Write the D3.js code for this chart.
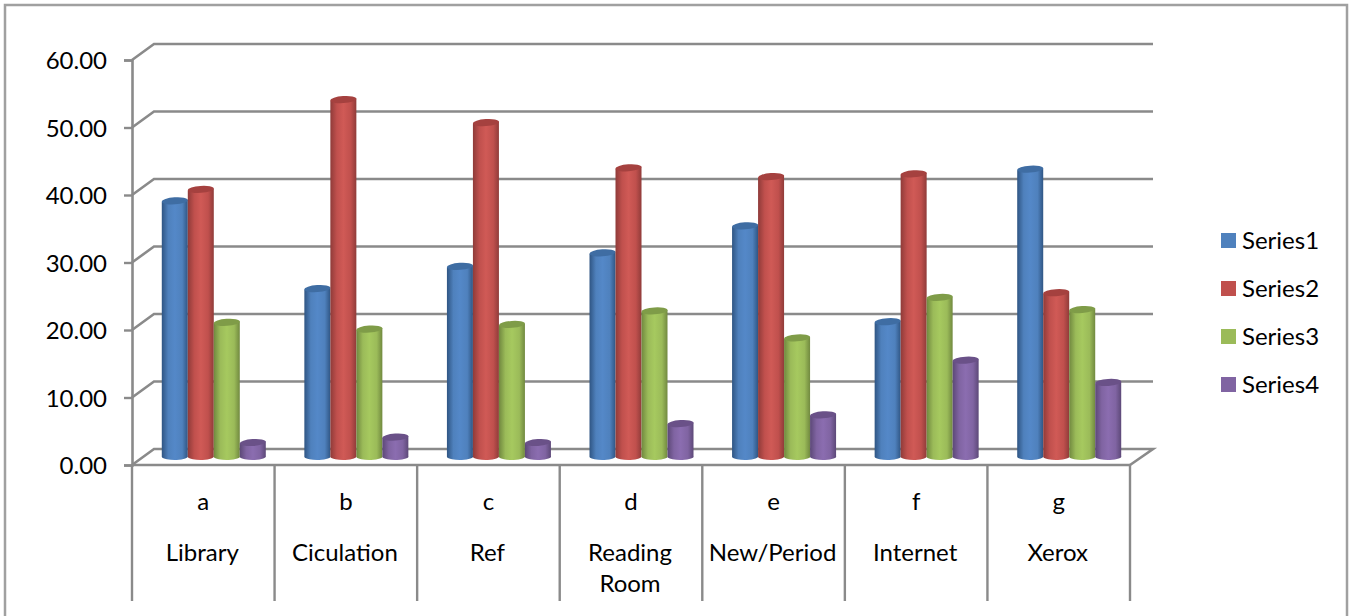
<!DOCTYPE html>
<html>
<head>
<meta charset="utf-8">
<script src="https://cdnjs.cloudflare.com/ajax/libs/d3/7.8.5/d3.min.js"></script>
<style>
  html, body { margin: 0; padding: 0; background: #fff; overflow: hidden; }
  svg { display: block; }
  text { font-family: Lato, "Open Sans", sans-serif; font-size: 24px; fill: #000; }
</style>
</head>
<body>
<svg id="chart" width="1351" height="616"></svg>
<script>
const codes = ["a", "b", "c", "d", "e", "f", "g"];
const places = ["Library", "Ciculation", "Ref", "Reading Room", "New/Period", "Internet", "Xerox"];
const seriesNames = ["Series1", "Series2", "Series3", "Series4"];

const series1 = [37.8, 24.8, 28.1, 30.1, 34.1, 19.9, 42.5];
const series2 = [39.5, 52.8, 49.4, 42.7, 41.4, 41.8, 24.2];
const series3 = [19.8, 18.8, 19.5, 21.5, 17.5, 23.5, 21.7];
const series4 = [2.0, 2.8, 2.0, 4.8, 6.1, 14.2, 10.9];
const seriesValues = [series1, series2, series3, series4];

const yTicks = [0, 10, 20, 30, 40, 50, 60];

const baseColors = ["#4f81bd", "#c0504d", "#9bbb59", "#8064a2"];
const midColors = ["#5488c8", "#d05a56", "#a6c95f", "#8b6db0"];
const edgeColors = ["#2f5583", "#8f3b39", "#70883f", "#5c4877"];
const capColors = ["#3f6da3", "#a5413f", "#7f9c48", "#6a5188"];

const gridColor = "#8a8a8a";

const svg = d3.select("#chart");

// depth of the 3d floor, back wall sits up and right of the front axis
const depth = { x: 22, y: -16 };

const x = d3.scaleBand().domain(codes).range([132, 1130]);
const y = d3.scaleLinear().domain([0, 60]).range([465, 60]);
const inner = d3.scaleBand().domain(seriesNames).range([0, 104]);

/* FRAME */
svg.append("rect")
  .attr("x", 5)
  .attr("y", 5)
  .attr("width", 1342)
  .attr("height", 660)
  .attr("fill", "#fff")
  .attr("stroke", "#a0a0a0")
  .attr("stroke-width", 2.5);

/* GRID */
const grid = svg.append("g").attr("id", "grid")
  .attr("fill", "none")
  .attr("stroke", gridColor)
  .attr("stroke-width", 2.6);

grid.selectAll("path")
  .data(yTicks)
  .enter()
  .append("path")
  .attr("d", d => {
    const x0 = x.range()[0];
    const x1 = x.range()[1];
    const line = "M" + x0 + "," + y(d) + "L" + (x0 + depth.x) + "," + (y(d) + depth.y) + "L" + (x1 + depth.x + 1) + "," + (y(d) + depth.y);
    return d === 0 ? line + "L" + x1 + "," + y(d) : line;
  });

/* Y AXIS */
const yAxis = d3.axisLeft(y)
  .tickValues(yTicks)
  .tickFormat(d3.format(".2f"))
  .tickSize(8)
  .tickPadding(17);

const yGroup = svg.append("g").attr("id", "y-axis")
  .attr("transform", "translate(132,0)")
  .call(yAxis);

yGroup.selectAll("line").attr("stroke", gridColor).attr("stroke-width", 2.4);
yGroup.select(".domain").attr("stroke", gridColor).attr("stroke-width", 2.6);
yGroup.selectAll("text")
  .style("font-family", "Lato, sans-serif")
  .style("font-size", "24px")
  .attr("fill", "#000")
  .attr("y", 1);

/* X AXIS */
const xGroup = svg.append("g").attr("id", "x-axis")
  .attr("stroke", gridColor)
  .attr("stroke-width", 2.4);

xGroup.append("line")
  .attr("x1", x.range()[0])
  .attr("x2", x.range()[1])
  .attr("y1", y(0))
  .attr("y2", y(0));

xGroup.selectAll("line.tick")
  .data(codes.concat(["end"]))
  .enter()
  .append("line")
  .attr("class", "tick")
  .attr("x1", (d, i) => x.range()[0] + i * x.step())
  .attr("x2", (d, i) => x.range()[0] + i * x.step())
  .attr("y1", y(0))
  .attr("y2", 601);

const labels = svg.append("g").attr("id", "x-labels").attr("text-anchor", "middle");

labels.selectAll("text.code")
  .data(codes)
  .enter()
  .append("text")
  .attr("class", "code")
  .attr("x", d => x(d) + x.bandwidth() / 2)
  .attr("y", 510)
  .text(d => d);

labels.selectAll("text.place")
  .data(places)
  .enter()
  .append("text")
  .attr("class", "place")
  .attr("x", (d, i) => x(codes[i]) + x.bandwidth() / 2 - 1)
  .attr("y", 561)
  .each(function(d) {
    const words = d.split(" ");
    const cell = d3.select(this);
    const cx = cell.attr("x");
    words.forEach((w, i) => {
      cell.append("tspan").attr("x", cx).attr("dy", i === 0 ? 0 : 31).text(w);
    });
  });

/* GRADIENTS */
const defs = svg.append("defs");

seriesNames.forEach((name, i) => {
  const grad = defs.append("linearGradient").attr("id", "grad-" + name);
  grad.append("stop").attr("offset", "0%").attr("stop-color", edgeColors[i]);
  grad.append("stop").attr("offset", "25%").attr("stop-color", baseColors[i]);
  grad.append("stop").attr("offset", "50%").attr("stop-color", midColors[i]);
  grad.append("stop").attr("offset", "78%").attr("stop-color", baseColors[i]);
  grad.append("stop").attr("offset", "100%").attr("stop-color", edgeColors[i]);
});

/* CYLINDERS */
const barWidth = inner.bandwidth();
const capHeight = 3.5;
const bars = svg.append("g").attr("id", "bars");

seriesNames.forEach((name, s) => {
  const group = bars.append("g").attr("class", "series").attr("id", name);

  const cylinders = group.selectAll("g")
    .data(seriesValues[s])
    .enter()
    .append("g")
    .attr("transform", (d, i) => {
      const left = x(codes[i]) + x.bandwidth() / 2 - 52 + depth.x / 2 + inner(name) - 0.5;
      return "translate(" + left + "," + depth.y / 2 + ")";
    });

  cylinders.append("path")
    .attr("fill", "url(#grad-" + name + ")")
    .attr("d", d => {
      const rx = barWidth / 2;
      return "M0," + y(d) + "V" + y(0)
        + "A" + rx + "," + capHeight + " 0 0 0 " + barWidth + "," + (y(0) - 1)
        + "V" + (y(d) - 2) + "Z";
    });

  cylinders.append("ellipse")
    .attr("cx", barWidth / 2)
    .attr("cy", d => y(d) - 1)
    .attr("rx", barWidth / 2)
    .attr("ry", capHeight)
    .attr("fill", capColors[s])
    .attr("transform", d => "rotate(-4," + (barWidth / 2) + "," + (y(d) - 1) + ")");
});

/* LEGEND */
const legend = svg.append("g").attr("id", "legend");

const legendRows = legend.selectAll("g")
  .data(seriesNames)
  .enter()
  .append("g")
  .attr("transform", (d, i) => "translate(1221," + (233 + i * 48) + ")");

legendRows.append("rect")
  .attr("width", 15)
  .attr("height", 15)
  .attr("fill", (d, i) => baseColors[i]);

legendRows.append("text")
  .attr("x", 21)
  .attr("y", 16)
  .text(d => d);
</script>
</body>
</html>
